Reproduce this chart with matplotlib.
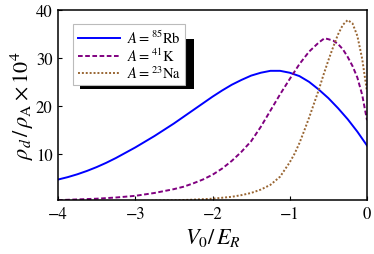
import matplotlib
matplotlib.use("Agg")
import matplotlib.pyplot as plt
from matplotlib.patches import Rectangle
from matplotlib.transforms import IdentityTransform

plt.rcParams['mathtext.fontset'] = 'stix'
plt.rcParams['font.family'] = ['STIXGeneral', 'DejaVu Serif']

# Data
x_rb = [-4.0, -3.875, -3.75, -3.625, -3.5, -3.375, -3.25, -3.125, -3.0, -2.875,
        -2.75, -2.625, -2.5, -2.375, -2.25, -2.125, -2.0, -1.875, -1.75, -1.625,
        -1.5, -1.375, -1.25, -1.125, -1.0, -0.875, -0.75, -0.625, -0.5, -0.375,
        -0.25, -0.125, 0.0]
y_rb = [4.6, 5.1, 5.7, 6.4, 7.2, 8.1, 9.1, 10.2, 11.3, 12.5,
        13.7, 15.0, 16.3, 17.7, 19.1, 20.5, 21.9, 23.2, 24.4, 25.4,
        26.3, 26.9, 27.3, 27.3, 26.9, 26.2, 25.0, 23.4, 21.6, 19.5,
        17.2, 14.6, 11.7]

x_k = [-4.0, -3.75, -3.5, -3.25, -3.0, -2.75, -2.5, -2.375, -2.25, -2.125,
       -2.0, -1.875, -1.75, -1.625, -1.5, -1.375, -1.25, -1.125, -1.0, -0.875,
       -0.75, -0.625, -0.55, -0.5, -0.4375, -0.375, -0.3125, -0.25, -0.1875,
       -0.125, -0.0625, 0.0]
y_k = [0.3, 0.45, 0.6, 0.85, 1.2, 1.8, 2.6, 3.1, 3.8, 4.6,
       5.6, 6.9, 8.5, 10.4, 12.6, 15.6, 19.0, 22.4, 25.6, 28.7,
       31.3, 33.2, 34.1, 33.9, 33.6, 32.9, 31.8, 30.2, 28.3,
       25.9, 22.3, 17.0]

x_na = [-4.0, -3.5, -3.0, -2.5, -2.25, -2.0, -1.875, -1.75, -1.625, -1.5,
        -1.375, -1.25, -1.125, -1.0, -0.9375, -0.875, -0.8125, -0.75, -0.6875,
        -0.625, -0.5625, -0.5, -0.4375, -0.375, -0.3125, -0.25, -0.1875,
        -0.125, -0.0625, 0.0]
y_na = [0.02, 0.05, 0.1, 0.25, 0.4, 0.6, 0.8, 1.0, 1.35, 1.8,
        2.5, 3.5, 5.2, 8.2, 10.0, 12.2, 14.8, 17.5, 20.4,
        23.3, 26.5, 29.5, 32.3, 34.9, 36.9, 37.9, 37.2,
        34.6, 29.8, 23.0]

labels = [r'$A=^{85}$Rb', r'$A=^{41}$K', r'$A=^{23}$Na']
colors = ['#0000ff', '#800080', '#996633']

x_ticks = [-4, -3, -2, -1, 0]
y_ticks = [10, 20, 30, 40]

fig = plt.figure(figsize=(3.74, 2.55), dpi=100)
ax = fig.add_axes([58/374, 54/255, 309/374, 190/255])

ax.plot(x_rb, y_rb, color=colors[0], lw=1.4, label=labels[0])
ax.plot(x_k, y_k, color=colors[1], lw=1.4, dashes=(2.4, 1.3), label=labels[1])
ax.plot(x_na, y_na, color=colors[2], lw=1.4, dashes=(1, 1), label=labels[2])

ax.set_xlim(-4, 0)
ax.set_ylim(0.33, 40)
ax.set_xticks(x_ticks)
ax.set_yticks(y_ticks)
ax.tick_params(direction='in', length=3, width=0.8, labelsize=12,
               top=False, right=False, pad=4)
for s in ax.spines.values():
    s.set_linewidth(1.1)

ax.set_xlabel(r'$V_0/\,E_R$', fontsize=16, labelpad=3)
ax.set_ylabel(r'$\rho_d\,/\,\rho_{\rm A}\times 10^4$', fontsize=16, labelpad=0)

leg = ax.legend(loc='upper left', bbox_to_anchor=(0.0495, 0.926), borderaxespad=0,
                fontsize=10.5, frameon=True, fancybox=False, framealpha=1,
                edgecolor='#bbbbbb', handlelength=2.9, handletextpad=0.45,
                labelspacing=0.05, borderpad=0.3)
leg.get_frame().set_linewidth(0.8)
leg.set_zorder(5)

# legend shadow, placed from the legend's rendered box (pixels)
fig.canvas.draw()
bb = leg.get_window_extent()
sx0, sx1 = bb.x0 + 6.7, bb.x1 + 8.7
sy0, sy1 = bb.y0 - 3.4, bb.y1 - 15
shadow = Rectangle((sx0, sy0), sx1 - sx0, sy1 - sy0, transform=IdentityTransform(),
                   facecolor='black', edgecolor='none', zorder=4)
ax.add_patch(shadow)
fig.savefig('out.png', dpi=100)
